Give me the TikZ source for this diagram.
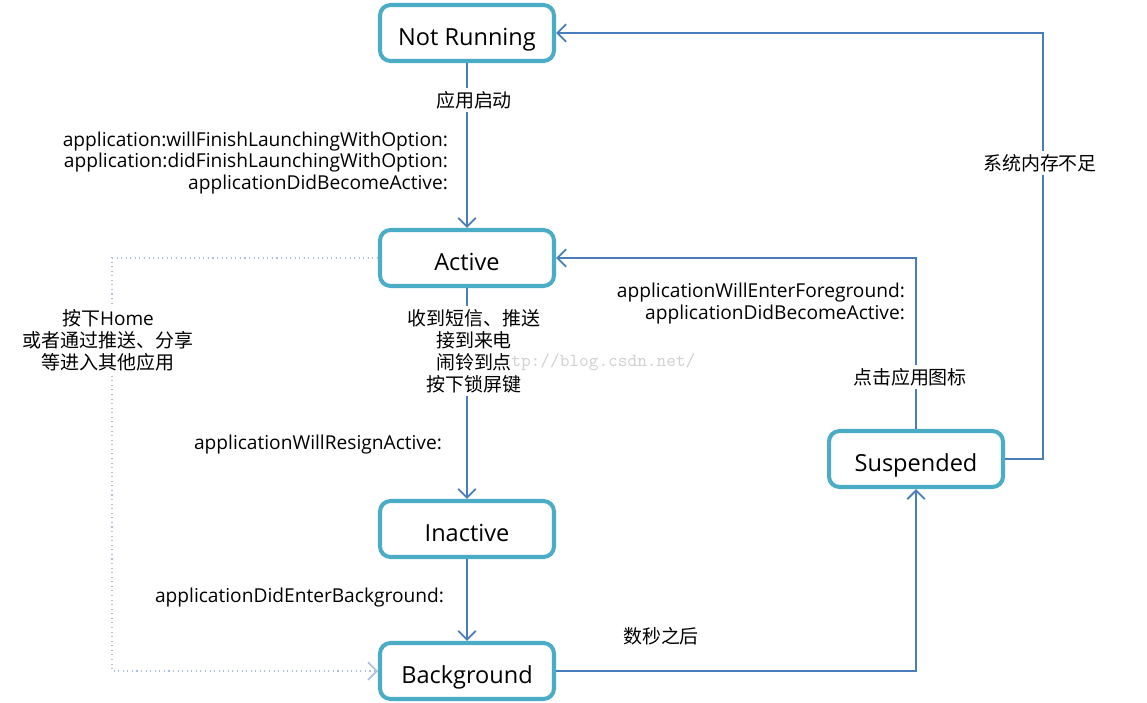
\documentclass[tikz,border=0pt]{standalone}
\usepackage{fontspec}
\setmainfont{Open Sans}
\newfontfamily\cjk{Noto Sans CJK SC}
\usetikzlibrary{arrows.meta}
\definecolor{boxteal}{RGB}{75,172,198}
\definecolor{flowblue}{RGB}{74,126,187}
\definecolor{dimblue}{RGB}{170,192,224}
\tikzset{
	state/.style={draw=boxteal, line width=2.3pt, rounded corners=6pt, fill=white,
		minimum width=3.48cm, minimum height=1.12cm, text height=14.5pt, text depth=0pt,
		font=\fontsize{13.4}{15}\selectfont},
	flow/.style={draw=flowblue, line width=1.1pt, -{Straight Barb[length=5pt,width=10pt]}},
	homeflow/.style={draw=dimblue, line width=0.6pt, dotted, -{Straight Barb[length=5pt,width=10pt,line width=1pt]}},
	note/.style={font=\fontsize{10.9}{12.5}\selectfont, inner sep=1pt},
	cnote/.style={font=\cjk\fontsize{10.8}{12.5}\selectfont, align=center, fill=white, inner sep=2pt},
}
\begin{document}
\begin{tikzpicture}[x=0.02cm, y=-0.02cm]
	\useasboundingbox (0,0) rectangle (1147,703);
	% states
	\node[state] (notrun) at (467,33) {Not Running};
	\node[state] (active) at (467,258) {Active};
	\node[state] (inact) at (467,529) {Inactive};
	\node[state] (backgr) at (467,671) {Background};
	\node[state] (susp) at (916,459) {Suspended};
	\coordinate (lowmem) at (1043,33);
	\coordinate (homecorner) at (112,258);
	% connectors
	\draw[flow] (notrun) -- (active);
	\draw[flow] (active) -- (inact);
	\draw[flow] (inact) -- (backgr);
	\draw[flow] (backgr.east) -| (susp.south);
	\draw[flow] (susp.north) |- (active.east);
	\draw[flow] (susp.east) -| (lowmem) -- (notrun.east);
	\draw[homeflow] (active.west) -- (homecorner) |- (backgr.west);
	% labels
	\node[cnote] (launch) at (474,100) {应用启动};
	\node[note, anchor=east, align=right] (launchapi) at (450,163) {application:willFinishLaunchingWithOption:\\application:didFinishLaunchingWithOption:\\applicationDidBecomeActive:};
	\node[cnote] (interrupt) at (474,351) {收到短信、推送\\接到来电\\闹铃到点\\按下锁屏键};
	\node[note, anchor=east] (resign) at (444,445) {applicationWillResignActive:};
	\node[note, anchor=east] (enterbg) at (446,598) {applicationDidEnterBackground:};
	\node[cnote] (wait) at (661,636) {数秒之后};
	\node[note, anchor=east, align=right] (foreground) at (907,304) {applicationWillEnterForeground:\\applicationDidBecomeActive:};
	\node[cnote] (tapicon) at (910,377) {点击应用图标};
	\node[cnote] (memlow) at (1040,163) {系统内存不足};
	\node[cnote] (home) at (108,340) {按下{\fontspec{Open Sans}Home}\\或者通过推送、分享\\等进入其他应用};
	% watermark
	\node[text=black!18, font=\ttfamily\fontsize{10.5}{12}\selectfont, anchor=west, inner sep=0pt] (mark) at (511,362) {tp://blog.csdn.net/};
\end{tikzpicture}
\end{document}
